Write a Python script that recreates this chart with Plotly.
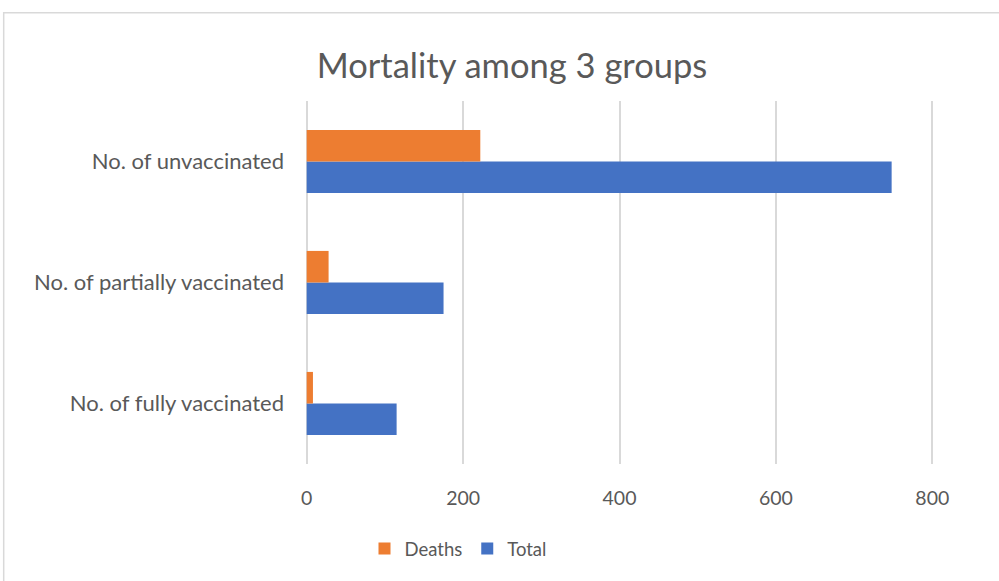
import plotly.graph_objects as go

# Data
categories = ["No. of fully vaccinated", "No. of partially vaccinated", "No. of unvaccinated"]
deaths = [8, 28, 222]
total = [115, 175, 748]
x_ticks = [0, 200, 400, 600, 800]

FONT = "Lato, sans-serif"
TEXT = "#595959"
GRID = "#d9d9d9"

fig = go.Figure()
# Total first so that Deaths sits above it within each group
fig.add_trace(go.Bar(y=categories, x=total, name="Total", orientation="h",
                     marker=dict(color="#4472C4", line=dict(width=0))))
fig.add_trace(go.Bar(y=categories, x=deaths, name="Deaths", orientation="h",
                     marker=dict(color="#ED7D31", line=dict(width=0))))

L, R, T, B = 302, 62, 101, 117
W, H = 999, 581
pw, ph = W - L - R, H - T - B

fig.update_layout(
    width=W, height=H,
    margin=dict(l=L, r=R, t=T, b=B),
    paper_bgcolor="white", plot_bgcolor="white",
    barmode="group", bargap=0.478, bargroupgap=0,
    font=dict(family=FONT, color=TEXT),
    title=dict(text="Mortality among 3 groups", x=(512 - L) / pw, xref="paper",
               xanchor="center", y=1 - 66 / H, yanchor="middle",
               font=dict(size=34.5, family=FONT, color=TEXT)),
    xaxis=dict(range=[-6, 806], tickvals=x_ticks, showgrid=True, gridcolor=GRID,
               gridwidth=2, zeroline=False, showline=False, ticks="",
               tickfont=dict(size=19.5, family=FONT, color=TEXT), ticklabelstandoff=20,
               fixedrange=True),
    yaxis=dict(showgrid=False, zeroline=False, showline=False, ticks="",
               tickfont=dict(size=22, family=FONT, color=TEXT), ticklabelstandoff=17,
               fixedrange=True),
    legend=dict(orientation="h", traceorder="reversed", x=(458 - L) / pw,
                xanchor="center", y=-(549 - (H - B)) / ph, yanchor="middle",
                font=dict(size=18.5, family=FONT, color=TEXT), itemwidth=30,
                bgcolor="rgba(0,0,0,0)"),
    showlegend=True,
    shapes=[dict(type="rect", xref="paper", yref="paper",
                 x0=(3.7 - L) / pw, x1=(W + 20 - L) / pw,
                 y0=-(H + 20 - (H - B)) / ph, y1=((H - B) - 12.7) / ph,
                 line=dict(color=GRID, width=1.5), fillcolor="rgba(0,0,0,0)",
                 layer="below")],
)

fig.write_html("out.html")
